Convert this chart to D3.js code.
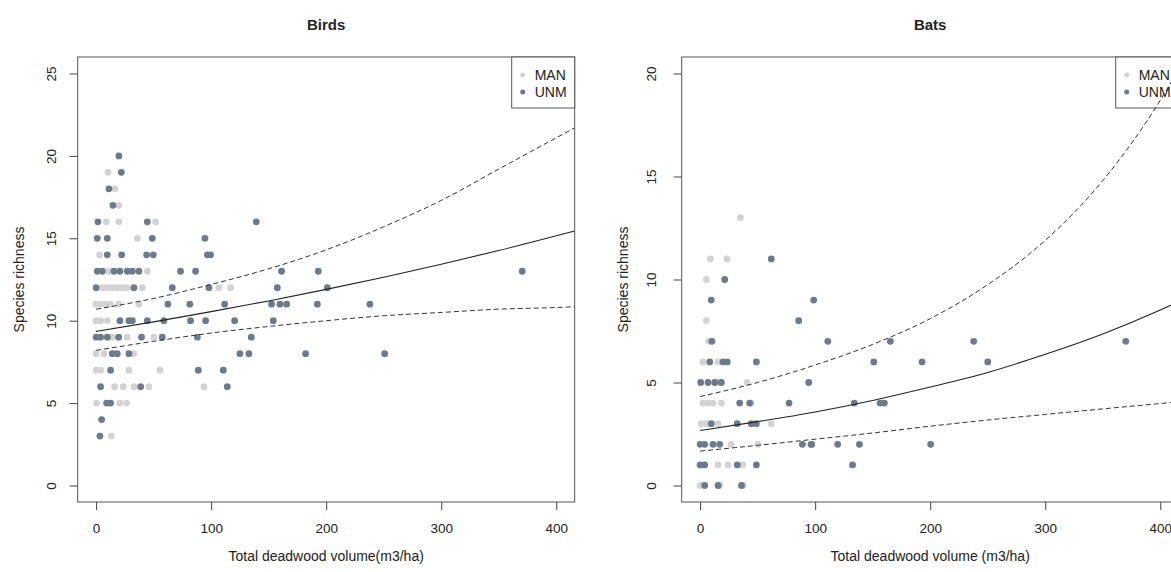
<!DOCTYPE html>
<html><head><meta charset="utf-8">
<script src="https://cdn.jsdelivr.net/npm/d3@7"></script>
<style>
body{margin:0;background:#fff;}
text{font-family:"Liberation Sans",Arial,sans-serif;fill:#222;}
</style></head>
<body><svg id="c" width="1171" height="572"></svg>
<script>
// ---------------- data ----------------
const groups = ["MAN", "UNM"];
const groupColors = ["#d3d3d3", "#6c7b8b"];
const xTicks = [0, 100, 200, 300, 400];
const birdsYTicks = [0, 5, 10, 15, 20, 25];
const batsYTicks = [0, 5, 10, 15, 20];

// Birds: [deadwood volume, richness]
const birdsMAN = [
 [10.3,19],[16.3,18],[19.8,17],[8.9,16],[19.8,16],[51.7,16],[35.8,15],[3,14],
 [11.1,13],[44.5,13],
 [5.4,12],[9.7,12],[14.1,12],[18.4,12],[22.8,12],[27.1,12],[40.2,12],[106.7,12],[116.9,12],
 [0,11],[3.9,11],[8.3,11],[12.6,11],[19.6,11],[37.2,11],
 [0,10],[3.9,10],[9.7,10],
 [14.1,9],[27.1,9],[50.2,9],
 [0,8],[6.8,8],[32.9,8],
 [0,7],[3.9,7],[28.5,7],[55.5,7],
 [16.1,6],[23.6,6],[32.9,6],[45.9,6],[93.7,6],
 [0.4,5],[20.7,5],[26.5,5],
 [13.2,3]
];
const birdsUNM = [
 [19.8,20],[21.9,19],[11.1,18],[14.6,17],
 [1.6,16],[44.5,16],[139.2,16],
 [1,15],[9.7,15],[48.8,15],[94.6,15],
 [9.7,14],[22.2,14],[43.9,14],[49.7,14],[96.7,14],[99.5,14],
 [1,13],[5.4,13],[15.5,13],[20.7,13],[27.1,13],[31.5,13],[37.2,13],[73.4,13],[86.5,13],[161.2,13],[193.1,13],[370.4,13],
 [0,12],[32.9,12],[66.2,12],[98,12],[157.5,12],[201,12],
 [62.4,11],[81.5,11],[111.7,11],[152.5,11],[159.8,11],[165.6,11],[192.3,11],[238,11],
 [20.7,10],[28.5,10],[31.5,10],[44.5,10],[58.9,10],[82.1,10],[95.2,10],[120.4,10],[154,10],
 [0,9],[3.9,9],[9.7,9],[19.6,9],[39.5,9],[57.5,9],[88,9],[134.9,9],
 [14.1,8],[18.4,8],[28.5,8],[125,8],[132.8,8],[182.1,8],[250.8,8],
 [12.6,7],[88.8,7],[110.6,7],
 [3.9,6],[38.7,6],[114,6],
 [9.1,5],[12.6,5],
 [4.8,4],[3.3,3]
];

// Bats: [deadwood volume, richness]
const batsMAN = [
 [35,13],[8.9,11],[23.4,11],[5.4,10],[5.4,8],[7.5,7],
 [2.5,6],[15.6,6],[15.6,5],[40.8,5],
 [2.5,4],[6.9,4],[11.2,4],[18.5,4],[44.5,4],
 [1,3],[5.4,3],[15.6,3],[61.9,3],
 [27,2],[50.3,2],
 [15.6,1],[24.3,1],[37,1],
 [0,0],[17.3,0],[37.5,0]
];
const batsUNM = [
 [61.9,11],[21.4,10],[9.7,9],[98.7,9],[85.7,8],
 [10.3,7],[111,7],[165.4,7],[237.8,7],[370,7],
 [8.4,6],[19.9,6],[23.6,6],[48.9,6],[151,6],[192.9,6],[250,6],
 [0.5,5],[6.9,5],[12.7,5],[18.5,5],[94.4,5],
 [34.4,4],[43.1,4],[77.3,4],[134,4],[156.4,4],[160.2,4],
 [9.7,3],[32.3,3],[44.5,3],[48.9,3],
 [0,2],[4,2],[11.2,2],[17,2],[88.9,2],[96.4,2],[97,2],[119.6,2],[138.5,2],[200.4,2],
 [0,1],[4,1],[32.3,1],[48.9,1],[132.5,1],
 [4,0],[15.6,0],[36,0]
];

// fitted curve and confidence limits
const curveX = [0, 50, 100, 150, 200, 250, 300, 350, 400, 416];
const birdsFit   = [9.35, 9.93, 10.55, 11.2, 11.9, 12.64, 13.43, 14.26, 15.15, 15.45];
const birdsUpper = [10.7, 11.35, 12.2, 13.15, 14.3, 15.7, 17.3, 19.2, 21.1, 21.7];
const birdsLower = [8.2, 8.75, 9.25, 9.65, 10.0, 10.3, 10.5, 10.7, 10.8, 10.85];
const batsFit    = [2.67, 3.10, 3.57, 4.13, 4.78, 5.49, 6.37, 7.36, 8.52, 8.93];
const batsUpper  = [4.32, 5.0, 5.85, 6.85, 8.1, 9.75, 11.9, 14.8, 18.7, 20.2];
const batsLower  = [1.67, 1.95, 2.25, 2.55, 2.88, 3.18, 3.45, 3.72, 3.98, 4.06];

// ---------------- drawing ----------------
const svg = d3.select("#c");
const W = 497, H = 445, TOP = 57;
const FF = '"Liberation Sans",Arial,sans-serif';

function panel(o) {
  const L = o.left;
  const x = d3.scaleLinear().domain([-16, 416]).range([L, L + W]);
  const y = d3.scaleLinear().domain(o.yDom).range([TOP + H, TOP]);
  const g = svg.append("g");
  const clipId = "clip" + o.id;
  svg.append("clipPath").attr("id", clipId).append("rect")
    .attr("x", L).attr("y", TOP).attr("width", W).attr("height", H);

  // axes
  const xa = g.append("g").attr("transform", `translate(0,${TOP + H})`)
    .call(d3.axisBottom(x).tickValues(xTicks).tickSize(8).tickSizeOuter(0).tickPadding(13));
  xa.select(".domain").remove();
  xa.selectAll("line").attr("stroke", "#444");
  xa.selectAll("text").attr("font-size", 13.5).attr("fill", "#222").style("font-family", FF);

  const ya = g.append("g").attr("transform", `translate(${L},0)`)
    .call(d3.axisLeft(y).tickValues(o.yTicks).tickSize(8).tickSizeOuter(0));
  ya.select(".domain").remove();
  ya.selectAll("line").attr("stroke", "#444");
  ya.selectAll("text").attr("font-size", 13.5).attr("fill", "#222").style("font-family", FF)
    .attr("x", null).attr("dy", null).attr("text-anchor", "middle")
    .attr("transform", `translate(${-o.yLabOff},0) rotate(-90)`)
    .attr("dy", "0.35em");

  // box
  g.append("rect").attr("x", L).attr("y", TOP).attr("width", W).attr("height", H)
    .attr("fill", "none").attr("stroke", "#555").attr("stroke-width", 1);

  // titles
  g.append("text").attr("x", L + W / 2).attr("y", 30).attr("text-anchor", "middle")
    .attr("font-size", 15).attr("font-weight", "bold").text(o.title);
  g.append("text").attr("x", L + W / 2).attr("y", 561).attr("text-anchor", "middle")
    .attr("font-size", 14).text(o.xTitle);
  g.append("text").attr("transform", `translate(${L - 59},${TOP + H / 2}) rotate(-90)`)
    .attr("text-anchor", "middle").attr("dy", "0.35em").attr("font-size", 14).text("Species richness");

  // legend
  const lx = L + W - 63;
  g.append("rect").attr("x", lx).attr("y", TOP).attr("width", 63).attr("height", 51)
    .attr("fill", "#fff").attr("stroke", "#555");
  groups.forEach((k, i) => {
    const yy = TOP + 18 + i * 17;
    g.append("circle").attr("cx", lx + 11).attr("cy", yy).attr("r", 2.5).attr("fill", groupColors[i]);
    g.append("text").attr("x", lx + 23).attr("y", yy).attr("dy", "0.35em").attr("font-size", 14).text(k);
  });

  // points
  const pg = g.append("g").attr("clip-path", `url(#${clipId})`);
  [o.man, o.unm].forEach((arr, i) => {
    pg.selectAll(null).data(arr).enter().append("circle")
      .attr("cx", d => x(d[0])).attr("cy", d => y(d[1])).attr("r", 3.4)
      .attr("fill", groupColors[i]);
  });

  // curves
  const line = d3.line().x((d, i) => x(curveX[i])).y(d => y(d)).curve(d3.curveMonotoneX);
  pg.append("path").attr("d", line(o.fit)).attr("fill", "none").attr("stroke", "#222").attr("stroke-width", 1.1);
  [o.upper, o.lower].forEach(arr => {
    pg.append("path").attr("d", line(arr)).attr("fill", "none").attr("stroke", "#333")
      .attr("stroke-width", 1).attr("stroke-dasharray", "5,3");
  });
}

panel({id: "b", left: 77.7, yDom: [-1, 26], yTicks: birdsYTicks, yLabOff: 26, title: "Birds",
  xTitle: "Total deadwood volume(m3/ha)", man: birdsMAN, unm: birdsUNM,
  fit: birdsFit, upper: birdsUpper, lower: birdsLower});
panel({id: "t", left: 681.7, yDom: [-0.8, 20.8], yTicks: batsYTicks, yLabOff: 30, title: "Bats",
  xTitle: "Total deadwood volume (m3/ha)", man: batsMAN, unm: batsUNM,
  fit: batsFit, upper: batsUpper, lower: batsLower});
</script></body></html>
